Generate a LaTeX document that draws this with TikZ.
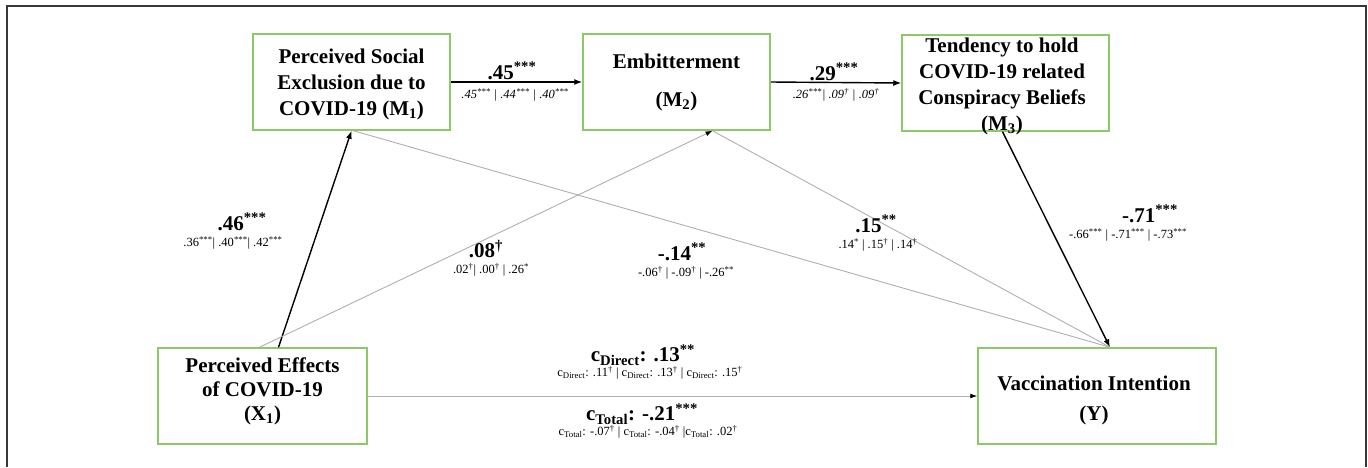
\documentclass[tikz,border=0pt]{standalone}
\usepackage{fontspec}
\setmainfont{Liberation Serif}
\usetikzlibrary{arrows.meta,calc}
\definecolor{boxgreen}{RGB}{141,201,104}
\definecolor{pathgray}{RGB}{175,175,175}
\definecolor{framegray}{RGB}{55,55,55}
\newcommand{\sig}[1]{\textsuperscript{#1}}
\begin{document}
\begin{tikzpicture}[x=1pt,y=-1pt,
  varbox/.style={draw=boxgreen,line width=1.5pt,minimum width=#1,minimum height=96pt,inner sep=0pt},
  boxtext/.style={font=\fontsize{21}{26}\selectfont\bfseries,align=center,inner sep=0pt},
  coef/.style={font=\fontsize{21}{24}\selectfont\bfseries,inner sep=0pt},
  coefsmall/.style={font=\fontsize{12.5}{14}\selectfont,inner sep=0pt},
  strongpath/.style={line width=1.4pt,black,-{Latex[length=8pt,width=6pt]}},
  weakpath/.style={line width=0.9pt,pathgray,-{Latex[length=7pt,width=5pt,color=black]}},
  weakline/.style={line width=0.9pt,pathgray}]
\useasboundingbox (0,0) rectangle (1368,467);
% outer frame
\draw[framegray,line width=1.5pt] (7,467) -- (7,6) -- (1366,6) -- (1366,467);

% variable boxes
\node[varbox=197pt] (m1) at (351.5,82) {};
\node[varbox=187pt] (m2) at (676.5,82) {};
\node[varbox=207pt] (m3) at (1005.5,83) {};
\node[varbox=209pt] (x1) at (262.5,396) {};
\node[varbox=238pt] (yv) at (1097,396) {};

% box captions
\node[boxtext] (m1t) at (351.5,84) {Perceived Social\\Exclusion due to\\COVID-19 (M\textsubscript{1})};
\node[boxtext,font=\fontsize{21}{38}\selectfont\bfseries] (m2t) at (676.5,82) {Embitterment\\(M\textsubscript{2})};
\node[boxtext] (m3t) at (1002,86) {Tendency to hold\\COVID-19 related\\Conspiracy Beliefs\\(M\textsubscript{3})};
\node[boxtext,font=\fontsize{21}{24}\selectfont\bfseries] (x1t) at (262.5,391) {Perceived Effects\\of COVID-19\\(X\textsubscript{1})};
\node[boxtext,font=\fontsize{21}{30}\selectfont\bfseries] (yt) at (1094,400) {Vaccination Intention\\(Y)};

% connector end points on the box borders
\coordinate (x1a) at ($(x1.north)+(16,0)$);
\coordinate (x1b) at ($(x1.north)+(-3,0)$);
\coordinate (m1a) at ($(m1.south)+(2,0)$);
\coordinate (m2a) at ($(m2.south)+(36,0)$);
\coordinate (m3a) at ($(m3.south)+(-3,0)$);
\coordinate (ya) at ($(yv.north)+(13,0)$);

% paths
\draw[strongpath] (m1.east) -- (m2.west);
\draw[strongpath] (m2.east) -- (m3.west);
\draw[strongpath] (x1a) -- (m1.south);
\draw[weakpath] (x1b) -- (m2a);
\draw[weakline] (m1a) -- (ya);
\draw[weakline] (m2a) -- (ya);
\draw[strongpath] (m3a) -- (ya);
\draw[weakpath] (x1.east) -- (yv.west);

% coefficients
\node[coef] (c12) at (512,71) {.45\sig{***}};
\node[coefsmall,font=\fontsize{12.5}{14}\selectfont\itshape] (c12s) at (515,95) {.45\sig{***} | .44\sig{***} | .40\sig{***}};
\node[coef] (c23) at (834,72) {.29\sig{***}};
\node[coefsmall,font=\fontsize{12.5}{14}\selectfont\itshape] (c23s) at (836,95) {.26\sig{***}| .09\sig{†} | .09\sig{†}};
\node[coef] (cx1) at (242,222) {.46\sig{***}};
\node[coefsmall] (cx1s) at (233,243) {.36\sig{***}| .40\sig{***}| .42\sig{***}};
\node[coef] (cx2) at (486,249) {.08\sig{†}};
\node[coefsmall] (cx2s) at (491,270) {.02\sig{†}| .00\sig{†} | .26\sig{*}};
\node[coef] (c1y) at (682,252) {-.14\sig{**}};
\node[coefsmall] (c1ys) at (686,273) {-.06\sig{†} | -.09\sig{†} | -.26\sig{**}};
\node[coef] (c2y) at (876,224) {.15\sig{**}};
\node[coefsmall] (c2ys) at (878,245) {.14\sig{*} | .15\sig{†} | .14\sig{†}};
\node[coef] (c3y) at (1150,214) {-.71\sig{***}};
\node[coefsmall] (c3ys) at (1128,235) {-.66\sig{***} | -.71\sig{***} | -.73\sig{***}};
\node[coef] (cd) at (643,355) {c\textsubscript{Direct}: .13\sig{**}};
\node[coefsmall] (cds) at (650,373) {c\textsubscript{Direct}: .11\sig{†} | c\textsubscript{Direct}: .13\sig{†} | c\textsubscript{Direct}: .15\sig{†}};
\node[coef] (ct) at (642,414) {c\textsubscript{Total}: -.21\sig{***}};
\node[coefsmall] (cts) at (648,432) {c\textsubscript{Total}: -.07\sig{†} | c\textsubscript{Total}: -.04\sig{†} |c\textsubscript{Total}: .02\sig{†}};
\end{tikzpicture}
\end{document}
